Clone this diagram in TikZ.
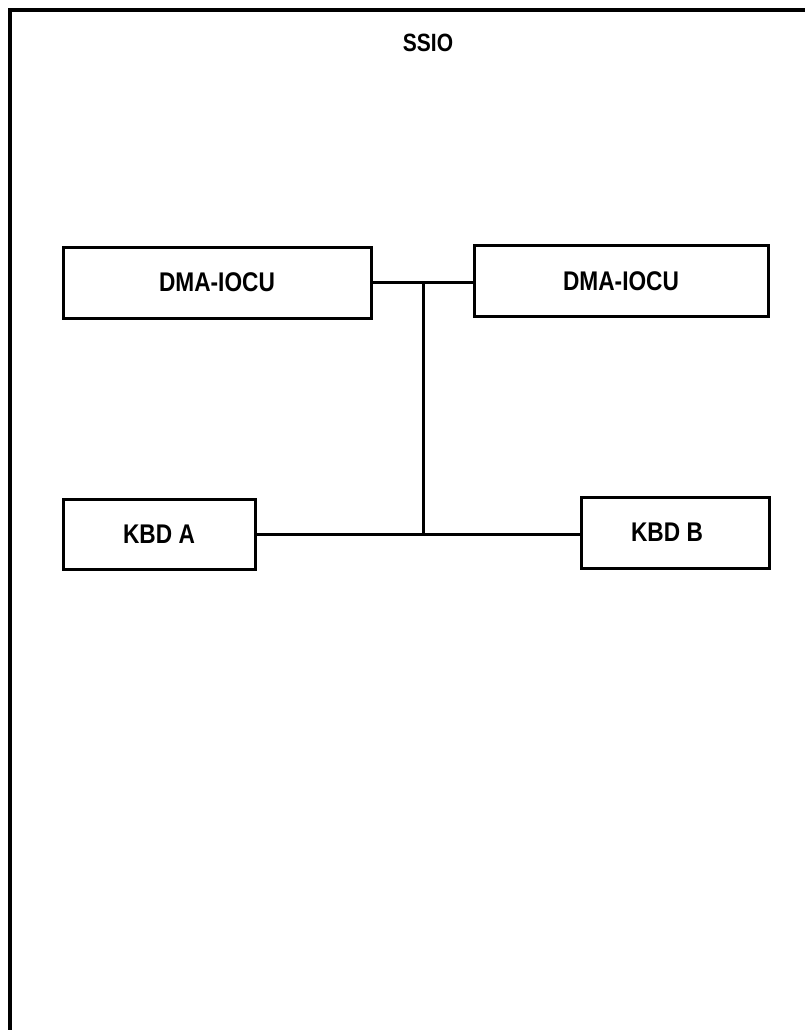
\documentclass[tikz,border=0pt]{standalone}
\usepackage{fontspec}
\setmainfont{Liberation Sans}[FakeStretch=0.84]
\begin{document}
\begin{tikzpicture}[x=1pt,y=-1pt,
  unitbox/.style={draw, rectangle, line width=3pt, inner sep=0pt, font=\fontsize{27}{31}\selectfont\bfseries},
  wire/.style={line width=3pt}]
\useasboundingbox (0,0) rectangle (805,1030);
% outer frame (open at right and bottom, clipped by page)
\draw[line width=3.2pt] (10,1030) -- (10,10) -- (805,10);
\node[font=\fontsize{25}{30}\selectfont\bfseries] (title) at (428,43) {SSIO};
\node[unitbox, minimum width=308pt, minimum height=71pt] (d1) at (217,282.5) {DMA-IOCU};
\node[unitbox, minimum width=294pt, minimum height=71pt] (d2) at (621,281) {DMA-IOCU};
\node[unitbox, minimum width=192pt, minimum height=70pt] (ka) at (159,534) {KBD A};
\node[unitbox, minimum width=188pt, minimum height=71pt] (kb) at (675,532.5) {\hspace*{-16pt}KBD B};
\coordinate (j1) at (423,282);
\coordinate (j2) at (423,534);
\draw[wire] (d1.east |- j1) -- (d2.west |- j1);
\draw[wire] (j1) -- (j2);
\draw[wire] (ka.east |- j2) -- (kb.west |- j2);
\end{tikzpicture}
\end{document}
